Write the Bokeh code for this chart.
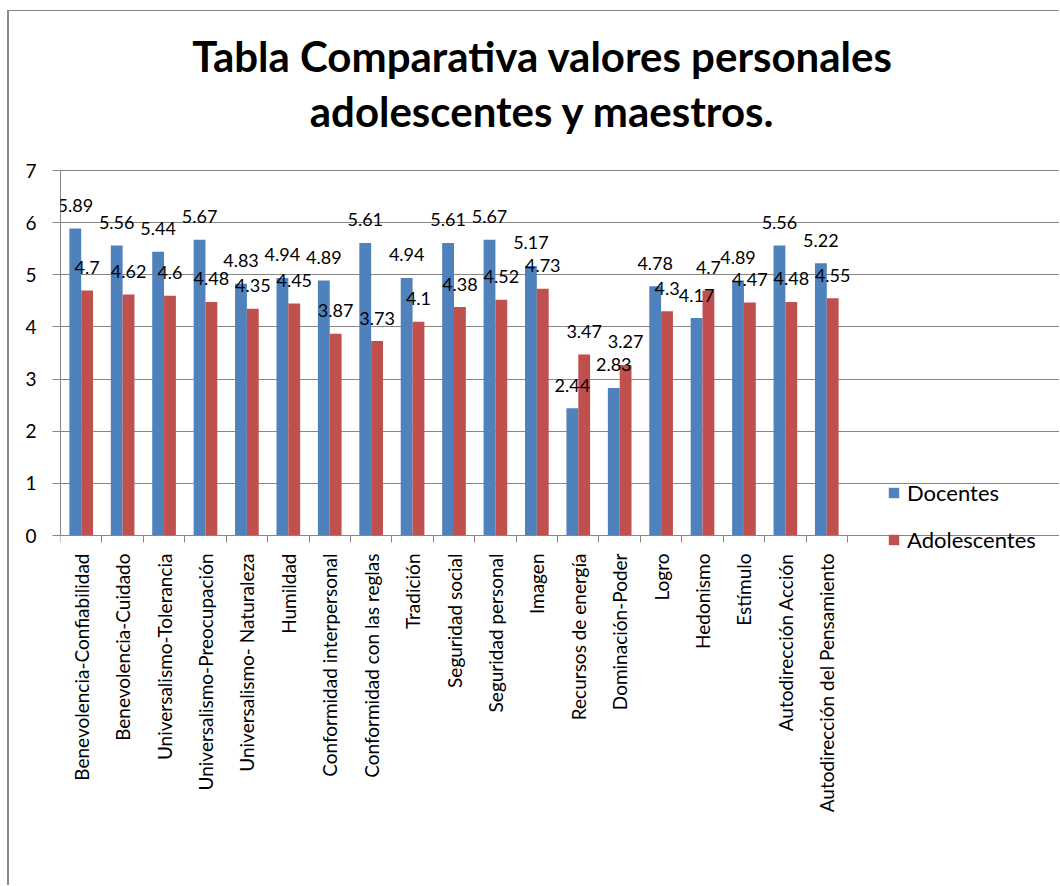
import numpy as np
from bokeh.plotting import figure
from bokeh.models import (ColumnDataSource, Range1d, FixedTicker, LabelSet, Label,
                          Legend, LegendItem)
from bokeh.core.properties import value
from bokeh.embed import file_html
from bokeh.resources import INLINE

# ---------------- data ----------------
categories = [
    "Benevolencia-Confiabilidad", "Benevolencia-Cuidado", "Universalismo-Tolerancia",
    "Universalismo-Preocupación", "Universalismo- Naturaleza", "Humildad",
    "Conformidad interpersonal", "Conformidad con las reglas", "Tradición",
    "Seguridad social", "Seguridad personal", "Imagen", "Recursos de energía",
    "Dominación-Poder", "Logro", "Hedonismo", "Estímulo", "Autodirección Acción",
    "Autodirección del Pensamiento",
]
docentes = [5.89, 5.56, 5.44, 5.67, 4.83, 4.94, 4.89, 5.61, 4.94, 5.61, 5.67, 5.17,
            2.44, 2.83, 4.78, 4.17, 4.89, 5.56, 5.22]
adolescentes = [4.7, 4.62, 4.6, 4.48, 4.35, 4.45, 3.87, 3.73, 4.1, 4.38, 4.52, 4.73,
                3.47, 3.27, 4.3, 4.7, 4.47, 4.48, 4.55]
series_names = ["Docentes", "Adolescentes"]
y_ticks = [0, 1, 2, 3, 4, 5, 6, 7]
title_lines = ["Tabla Comparativa valores personales", "adolescentes y maestros."]

# ---------------- style / geometry ----------------
BLUE = "#4F81BD"
RED = "#C0504D"
GRID = "#868686"
FONT = "Lato"

n = len(categories)
PX_X = 787 / n                              # pixels per category
PX_Y = 365 / (y_ticks[-1] - y_ticks[0])     # pixels per unit
FRAME_W, FRAME_H = 999, 874                 # frame spans the whole chart area
TOP_PX, BOTTOM_PX = 524, 350                # frame pixels above / below value 0

centers = np.arange(n) + 0.5
bar_w = 1 / 3.5

src = ColumnDataSource(dict(
    x_doc=centers - bar_w / 2,
    x_ado=centers + bar_w / 2,
    doc=docentes,
    ado=adolescentes,
    doc_lbl=[f"{v:g}" for v in docentes],
    ado_lbl=[f"{v:g}" for v in adolescentes],
))

p = figure(
    frame_width=FRAME_W, frame_height=FRAME_H,
    min_border_left=51, min_border_top=0, min_border_right=0, min_border_bottom=0,
    x_range=Range1d(0, FRAME_W / PX_X),
    y_range=Range1d(-BOTTOM_PX / PX_Y, TOP_PX / PX_Y),
    output_backend="svg", toolbar_location=None, title=None,
    styles={"margin-left": "7px", "margin-top": "10px",
            "border-left": "2px solid #8a8a8a", "border-top": "1px solid #8a8a8a"},
)
p.outline_line_color = None
p.background_fill_color = "white"
p.border_fill_color = "white"

r1 = p.vbar(x="x_doc", top="doc", width=bar_w, source=src, fill_color=BLUE, line_color=None)
r2 = p.vbar(x="x_ado", top="ado", width=bar_w, source=src, fill_color=RED, line_color=None)

# data labels
for xcol, ycol, tcol in [("x_doc", "doc", "doc_lbl"), ("x_ado", "ado", "ado_lbl")]:
    p.add_layout(LabelSet(
        x=xcol, y=ycol, text=tcol, source=src, y_offset=23,
        text_align="center", text_baseline="middle",
        text_font=value(FONT), text_font_size="18px", text_color="black",
    ))

# grid / axes
p.xgrid.visible = False
p.ygrid.grid_line_color = GRID
p.ygrid.grid_line_width = 1
p.ygrid.ticker = FixedTicker(ticks=y_ticks)
p.ygrid.bounds = (0, n)

yax = p.yaxis[0]
yax.ticker = FixedTicker(ticks=y_ticks)
yax.bounds = (y_ticks[0], y_ticks[-1])
yax.axis_line_color = GRID
yax.major_tick_line_color = GRID
yax.major_tick_out = 8
yax.major_tick_in = 0
yax.minor_tick_line_color = None
yax.major_label_standoff = 16
yax.major_label_text_font = FONT
yax.major_label_text_font_size = "19px"
yax.major_label_text_color = "black"

xax = p.xaxis[0]
xax.fixed_location = 0
xax.ticker = FixedTicker(ticks=list(centers), minor_ticks=list(range(n + 1)))
xax.bounds = (0, n)
xax.major_label_overrides = {float(c): lab for c, lab in zip(centers, categories)}
xax.axis_line_color = GRID
xax.major_tick_line_color = None
xax.major_tick_out = 7
xax.major_tick_in = 0
xax.minor_tick_line_color = GRID
xax.minor_tick_out = 7
xax.minor_tick_in = 0
xax.major_label_orientation = np.pi / 2
xax.major_label_standoff = 11
xax.major_label_text_font = FONT
xax.major_label_text_font_size = "19px"
xax.major_label_text_color = "black"

# title (two centered lines)
for txt, yv in zip(title_lines, [9.187, 8.132]):
    p.add_layout(Label(
        x=11.64, y=yv, text=txt, text_align="center", text_baseline="alphabetic",
        text_font=FONT, text_font_style="bold", text_font_size="42px", text_color="black",
    ))

# legend (location in frame pixels from its bottom-left corner)
legend = Legend(
    items=[LegendItem(label=series_names[0], renderers=[r1]),
           LegendItem(label=series_names[1], renderers=[r2])],
    location=(827, BOTTOM_PX - 18),
    glyph_width=13, glyph_height=13, label_standoff=7, spacing=20,
    padding=0, margin=0, border_line_color=None, background_fill_alpha=0,
    label_text_font=FONT, label_text_font_size="22px", label_text_color="black",
)
p.add_layout(legend)

open("out.html", "w").write(file_html(p, INLINE))
